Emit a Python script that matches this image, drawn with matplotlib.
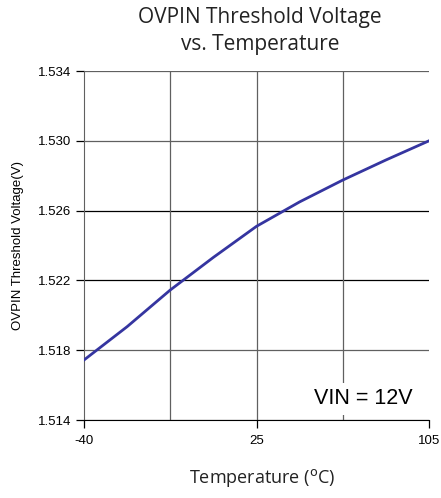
import matplotlib.pyplot as plt

# x axis is drawn in equal divisions; -40, 25 and 105 sit at 0, 2 and 4
pos = [0, 0.5, 1, 1.5, 2, 2.5, 3, 3.5, 4]
vth = [1.51744, 1.51935, 1.52145, 1.52332, 1.52510, 1.52650, 1.52775, 1.52890, 1.53000]
xtick_pos = [0, 2, 4]
xtick_lab = ['-40', '25', '105']
yticks = [1.514, 1.518, 1.522, 1.526, 1.530, 1.534]

fig = plt.figure(figsize=(4.41, 4.98), dpi=100)
ax = fig.add_axes([0.1905, 0.1566, 0.7823, 0.7008])

for y in yticks:
    c = 'black' if y in (1.522, 1.526) else '#606060'
    ax.axhline(y, color=c, lw=0.9, zorder=1)
for x in [1, 2, 3]:
    ax.axvline(x, color='#606060', lw=0.9, zorder=1)

ax.plot(pos, vth, color='#3535a0', lw=2.0, zorder=3)

ax.set_xlim(0, 4)
ax.set_ylim(1.514, 1.534)
ax.set_xticks(xtick_pos)
ax.set_xticklabels(xtick_lab)
ax.set_yticks(yticks)
ax.set_yticklabels(['%.3f' % y for y in yticks])
ax.tick_params(labelsize=9.5, length=6, width=0.9, pad=3)
for lab in ax.get_xticklabels() + ax.get_yticklabels():
    lab.set_family('Liberation Sans')
ax.tick_params(axis='x', pad=5)

for s in ['top', 'right']:
    ax.spines[s].set_visible(False)
ax.spines['left'].set_color('#606060')
ax.spines['bottom'].set_color('black')

ax.text(3.81, 1.5149, 'VIN = 12V', ha='right', va='baseline', fontsize=15.5,
        family='Liberation Sans', zorder=4,
        bbox=dict(facecolor='white', edgecolor='none', pad=4))

fig.text(0.59, 0.965, 'OVPIN Threshold Voltage', ha='center', va='center',
         fontsize=15, family='Open Sans', color='#222222')
fig.text(0.59, 0.91, 'vs. Temperature', ha='center', va='center',
         fontsize=15, family='Open Sans', color='#222222')
fig.text(0.04, 0.507, 'OVPIN Threshold Voltage(V)', rotation=90, ha='center',
         va='center', fontsize=9.5, family='Liberation Sans')
fig.text(0.595, 0.04, 'Temperature ($^{\\rm o}$C)', ha='center', va='center',
         fontsize=13, family='Open Sans', color='#222222')

fig.savefig('out.png', dpi=100)
